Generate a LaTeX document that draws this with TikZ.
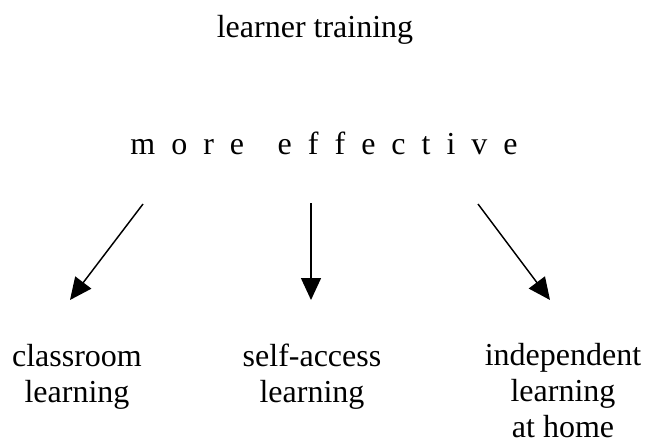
\documentclass[tikz,border=0pt]{standalone}
\usepackage{fontspec}
\setmainfont{Liberation Serif}
\usetikzlibrary{arrows.meta}
\begin{document}
\begin{tikzpicture}[x=0.75pt, y=-0.75pt, every node/.style={font=\fontsize{24}{27}\selectfont, inner sep=0pt},
  lbl/.style={align=center, anchor=base},
  arr/.style={-{Triangle[length=16.5pt,width=15pt]}, line width=1.1pt}]
  \useasboundingbox (0,0) rectangle (645,442);
  \node[anchor=base] (title) at (315,38) {learner training};
  \node[anchor=base] (effect) at (324,155) {\spaceskip=0.5em\relax m o r e\hspace{1.05em}e f f e c t i v e};
  % base anchor sits on the last line
  \node[lbl] (classroom) at (77,402) {classroom\\learning};
  \node[lbl] (selfaccess) at (312,402) {self-access\\learning};
  \node[lbl] (home) at (563,437) {independent\\learning\\at home};
  % arrow ends
  \coordinate (s1) at (143,204); \coordinate (e1) at (70,300);
  \coordinate (s2) at (311,203); \coordinate (e2) at (311,300);
  \coordinate (s3) at (478,204); \coordinate (e3) at (550,300);
  \draw[arr] (s1) -- (e1);
  \draw[arr] (s2) -- (e2);
  \draw[arr] (s3) -- (e3);
\end{tikzpicture}
\end{document}
